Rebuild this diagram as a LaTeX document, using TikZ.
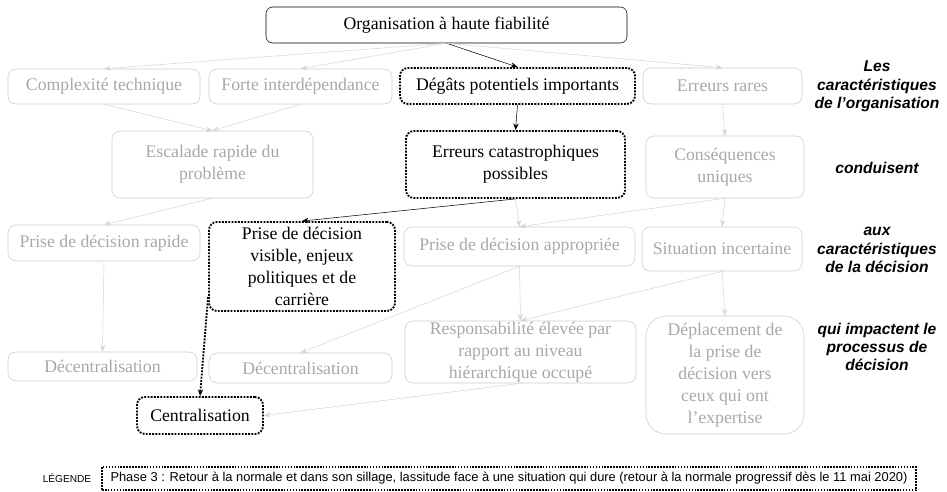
\documentclass[tikz,border=0pt]{standalone}
\usepackage{fontspec}
\setmainfont{Liberation Serif}
\setsansfont{Liberation Sans}
\usepackage{tikz}
\usetikzlibrary{arrows.meta,positioning}
\definecolor{boxgrey}{gray}{0.80}
\definecolor{textgrey}{gray}{0.66}
\definecolor{linegrey}{gray}{0.84}
\begin{document}
\begin{tikzpicture}[x=0.75pt,y=-0.75pt]
\tikzstyle{greybox}=[draw=boxgrey,text=textgrey,rounded corners=6pt,align=center,inner sep=0pt,font=\fontsize{13.3}{16.5}\selectfont]
\tikzstyle{blackbox}=[draw=black,line width=1.4pt,densely dotted,rounded corners=6pt,align=center,inner sep=0pt,font=\fontsize{13.3}{16.5}\selectfont]
\tikzstyle{greyarrow}=[draw=linegrey,-{Stealth[length=5pt,width=4pt]}]
\tikzstyle{blackarrow}=[draw=black,-{Stealth[length=5pt,width=4pt]}]
\tikzstyle{sidelabel}=[align=center,font=\sffamily\bfseries\itshape\fontsize{11.7}{13.7}\selectfont]
\useasboundingbox (0,0) rectangle (947,492);
% organisation
\node [draw=black,rounded corners=5pt,minimum width=270.75pt,minimum height=27pt,font=\fontsize{13.3}{16.5}\selectfont] at (446.5,25) (orga) {Organisation à haute fiabilité};
% caracteristiques
\node [greybox,minimum width=144pt,minimum height=26.25pt] at (104,86.5) (complex) {Complexité technique};
\node [greybox,minimum width=137.25pt,minimum height=26.25pt] at (300.5,86.5) (interdep) {Forte interdépendance};
\node [blackbox,minimum width=176.25pt,minimum height=27pt] at (517.5,86) (degats) {Dégâts potentiels importants};
\node [greybox,minimum width=119.25pt,minimum height=27pt] at (722.5,86) (rares) {Erreurs rares};
% consequences
\node [greybox,minimum width=150.75pt,minimum height=50.25pt] at (212.5,164.5) (escalade) {Escalade rapide du\\problème};
\node [blackbox,minimum width=164.25pt,minimum height=50.25pt] at (515.5,164.5) (catastro) {Erreurs catastrophiques\\possibles};
\node [greybox,minimum width=118.5pt,minimum height=46.5pt] at (725,167) (uniques) {Conséquences\\uniques};
% decision
\node [greybox,minimum width=144pt,minimum height=27pt] at (104,243) (rapide) {Prise de décision rapide};
\node [blackbox,minimum width=139.5pt,minimum height=66.75pt] at (302,266.5) (visible) {Prise de décision\\visible, enjeux\\politiques et de\\carrière};
\node [greybox,minimum width=173.25pt,minimum height=29.25pt] at (519.5,246.5) (approp) {Prise de décision appropriée};
\node [greybox,minimum width=120pt,minimum height=33pt] at (722,249) (incert) {Situation incertaine};
% processus
\node [greybox,minimum width=141.75pt,minimum height=21.75pt] at (102.5,366.5) (decent1) {Décentralisation};
\node [greybox,minimum width=137.25pt,minimum height=22.5pt] at (300.5,368) (decent2) {Décentralisation};
\node [greybox,minimum width=173.25pt,minimum height=46.5pt] at (520.5,352) (respons) {Responsabilité élevée par\\rapport au niveau\\hiérarchique occupé};
\node [greybox,rounded corners=15pt,minimum width=118.5pt,minimum height=88.5pt] at (725,375) (deplace) {Déplacement de\\la prise de\\décision vers\\ceux qui ont\\l’expertise};
\node [blackbox,minimum width=94.5pt,minimum height=27.75pt] at (200,415.5) (central) {Centralisation};
% labels a droite
\node [sidelabel] at (877,86.5) (lab1) {Les\\caractéristiques\\de l’organisation};
\node [sidelabel] at (877,168) (lab2) {conduisent};
\node [sidelabel] at (877,250) (lab3) {aux\\caractéristiques\\de la décision};
\node [sidelabel] at (877,347) (lab4) {qui impactent le\\processus de\\décision};
% legende
\node [font=\sffamily\fontsize{7.6}{9}\selectfont] at (67,478) (legtitle) {LÉGENDE};
\node [draw=black,line width=1.2pt,densely dotted,inner sep=0pt,minimum width=610.5pt,minimum height=17.25pt,font=\sffamily\fontsize{9.65}{11}\selectfont] at (509,478.5) (legbox) {Phase 3 : Retour à la normale et dans son sillage, lassitude face à une situation qui dure (retour à la normale progressif dès le 11 mai 2020)};

\draw [greyarrow] (orga.south) -- (complex.north);
\draw [greyarrow] (orga.south) -- (interdep.north);
\draw [blackarrow] (orga.south) -- (degats.north);
\draw [greyarrow] (orga.south) -- (rares.north);
\draw [greyarrow] (complex.south) -- (escalade.north);
\draw [greyarrow] (interdep.south) -- (escalade.north);
\draw [blackarrow] (degats.south) -- (catastro.north);
\draw [greyarrow] (rares.south) -- (uniques.north);
\draw [greyarrow] (escalade.south) -- (rapide.north);
\draw [blackarrow] (catastro.south) -- (visible.north);
\draw [greyarrow] (catastro.south) -- (approp.north);
\draw [greyarrow] (uniques.south) -- (approp.north);
\draw [greyarrow] (uniques.south) -- (incert.north);
\draw [greyarrow] (rapide.south) -- (decent1.north);
\draw [greyarrow] (approp.south) -- (decent2.north);
\draw [greyarrow] (approp.south) -- (respons.north);
\draw [greyarrow] (incert.south) -- (respons.north);
\draw [greyarrow] (incert.south) -- (deplace.north);
\draw [greyarrow] (respons.south) -- (central.east);
\draw [blackarrow,line width=1.4pt,densely dotted] (visible.198) -- (central.north);
\end{tikzpicture}
\end{document}
